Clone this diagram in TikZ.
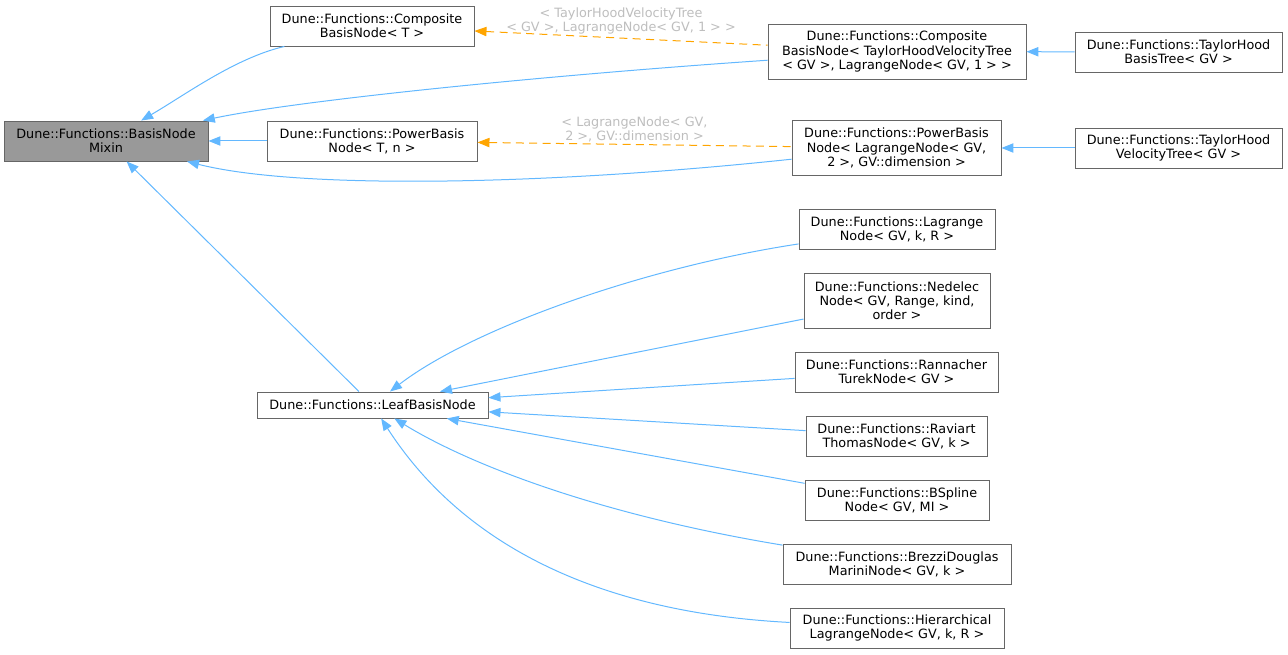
\documentclass[tikz,border=0pt]{standalone}
\usepackage{fontspec}
\setmainfont{DejaVu Sans}
\usetikzlibrary{arrows.meta}
\definecolor{edgeblue}{HTML}{63B8FF}
\definecolor{tplorange}{HTML}{FFA500}
\definecolor{boxgray}{HTML}{666666}
\definecolor{labgray}{HTML}{BEBEBE}
\definecolor{mixgray}{HTML}{999999}
\begin{document}
\begin{tikzpicture}[x=0.75pt,y=-0.75pt,>={Triangle[length=9pt,width=7pt]},
 n/.style={draw=boxgray,fill=white,align=center,inner sep=0pt,line width=0.7pt,font=\fontsize{9.6}{10.6}\selectfont},
 h1/.style={minimum height=19.5pt},
 h2/.style={minimum height=30pt},
 h3/.style={minimum height=41.25pt},
 e/.style={<-,draw=edgeblue,line width=0.75pt},
 tpl/.style={<-,draw=tplorange,line width=0.75pt,dash pattern=on 6pt off 4pt},
 lab/.style={font=\fontsize{9.6}{10.6}\selectfont,text=labgray,align=center,inner sep=1pt}]
\useasboundingbox (0,0) rectangle (1288,655);
\node[n,h2,minimum width=153pt,fill=mixgray] (mixin) at (106,141) {Dune::Functions::BasisNode\\Mixin};
\node[n,h2,minimum width=153pt] (compT) at (372,26) {Dune::Functions::Composite\\BasisNode< T >};
\node[n,h2,minimum width=157.5pt] (ptn) at (372,141) {Dune::Functions::PowerBasis\\Node< T, n >};
\node[n,h3,minimum width=193.5pt] (compTH) at (897,51.5) {Dune::Functions::Composite\\BasisNode< TaylorHoodVelocityTree\\< GV >, LagrangeNode< GV, 1 > >};
\node[n,h3,minimum width=156.75pt] (ptlag) at (896.5,148) {Dune::Functions::PowerBasis\\Node< LagrangeNode< GV,\\2 >, GV::dimension >};
\node[n,h2,minimum width=155.25pt] (thbt) at (1178.5,52) {Dune::Functions::TaylorHood\\BasisTree< GV >};
\node[n,h2,minimum width=155.25pt] (thvt) at (1178.5,148) {Dune::Functions::TaylorHood\\VelocityTree< GV >};
\node[n,h1,minimum width=173.25pt] (leaf) at (372.5,405) {Dune::Functions::LeafBasisNode};
\node[n,h2,minimum width=147pt] (lagr) at (897,229) {Dune::Functions::Lagrange\\Node< GV, k, R >};
\node[n,h3,minimum width=139.5pt] (ned) at (897,300.5) {Dune::Functions::Nedelec\\Node< GV, Range, kind,\\order >};
\node[n,h2,minimum width=152.25pt] (rann) at (896.5,372) {Dune::Functions::Rannacher\\TurekNode< GV >};
\node[n,h2,minimum width=135.75pt] (rav) at (896.5,436) {Dune::Functions::Raviart\\ThomasNode< GV, k >};
\node[n,h2,minimum width=138pt] (bsp) at (897,500) {Dune::Functions::BSpline\\Node< GV, MI >};
\node[n,h2,minimum width=171pt] (brez) at (897,564) {Dune::Functions::BrezziDouglas\\MariniNode< GV, k >};
\node[n,h2,minimum width=160.5pt] (hier) at (897,628) {Dune::Functions::Hierarchical\\LagrangeNode< GV, k, R >};
\draw[e] (mixin) .. controls (185,95) and (235,58) .. (compT);
\draw[e] (mixin) .. controls (300,100) and (550,75) .. (compTH);
\draw[e] (mixin) -- (ptn);
\draw[e] (mixin) .. controls (300,190) and (550,185) .. (ptlag);
\draw[e] (mixin) -- (leaf);
\draw[e] (compTH) -- (thbt);
\draw[e] (ptlag) -- (thvt);
\draw[tpl] (compT) -- node[lab,above=1.8pt] {< TaylorHoodVelocityTree\\< GV >, LagrangeNode< GV, 1 > >} (compTH);
\draw[tpl] (ptn) -- node[lab,above=0.5pt] {< LagrangeNode< GV,\\2 >, GV::dimension >} (ptlag);
\draw[e] (leaf) .. controls (470,330) and (640,268) .. (lagr);
\draw[e] (leaf) -- (ned);
\draw[e] (leaf) -- (rann);
\draw[e] (leaf) -- (rav);
\draw[e] (leaf) -- (bsp);
\draw[e] (leaf) .. controls (470,465) and (600,515) .. (brez);
\draw[e] (leaf) .. controls (440,510) and (550,610) .. (hier);
\end{tikzpicture}
\end{document}
